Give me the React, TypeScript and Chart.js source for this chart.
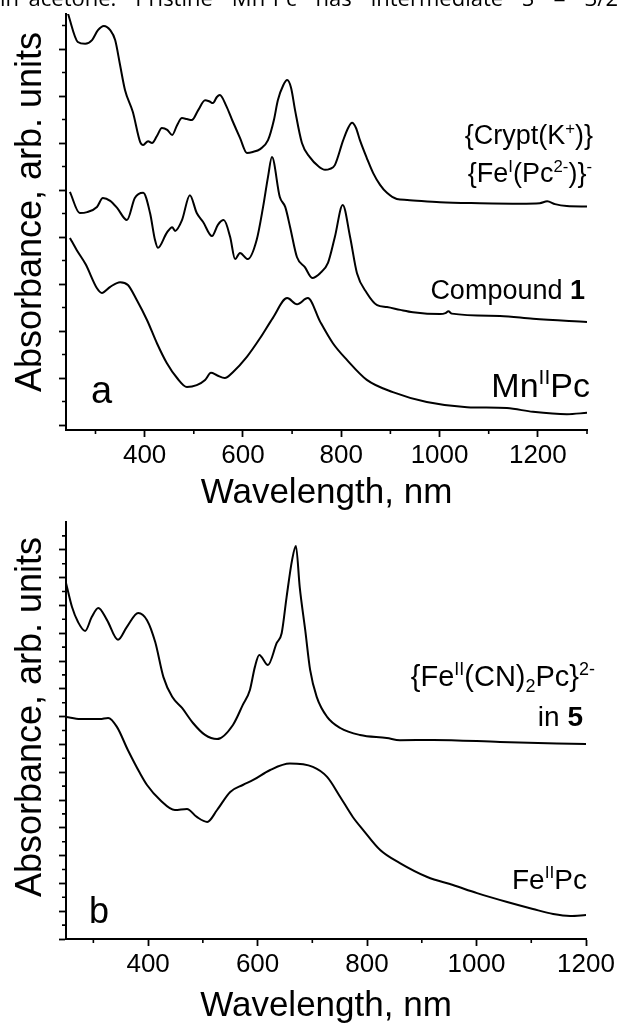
import React, { useEffect, useRef } from 'react';
import { Chart, registerables } from 'chart.js';

Chart.register(...registerables);

// ---------- Panel a data ----------
const cryptWl = [244,264,279,293,305,317,330,340,350,360,376,391,397,407,415,425,435,446,456,466,476,486,496,509,523,531,539,547,553,566,578,594,608,620,635,651,663,671,682,690,698,706,720,736,753,767,777,787,804,814,822,830,838,852,865,879,893,913,934,1001,1082,1164,1204,1219,1235,1259,1300];
const cryptAbs = [8.75,8.15,8.11,8.19,8.40,8.49,8.40,8.19,7.66,7.13,6.66,6.02,5.96,6.04,6.00,6.15,6.32,6.28,6.17,6.38,6.53,6.51,6.49,6.70,6.91,6.89,6.85,6.98,7.02,6.79,6.49,6.11,5.79,5.81,5.87,6.06,6.49,6.91,7.23,7.34,7.17,6.70,6.00,5.70,5.51,5.43,5.45,5.53,6.06,6.32,6.43,6.32,6.06,5.68,5.36,5.11,4.94,4.81,4.79,4.74,4.72,4.71,4.72,4.76,4.70,4.66,4.65];

const c1Wl = [248,268,283,303,315,330,344,364,380,397,411,421,427,445,456,462,476,492,506,519,537,549,561,574,584,594,610,628,641,651,659,675,686,696,710,726,741,757,773,787,803,818,832,852,873,893,920,946,1001,1012,1018,1025,1123,1190,1300];
const c1Abs = [4.96,4.51,4.53,4.64,4.83,4.77,4.62,4.36,4.83,4.94,4.51,3.94,3.77,4.09,4.21,4.13,4.36,4.89,4.51,4.32,4.02,4.26,4.36,4.00,3.53,3.66,3.53,3.94,4.64,5.28,5.70,4.85,4.64,4.21,3.57,3.36,3.13,3.23,3.45,4.00,4.68,4.00,3.23,2.81,2.55,2.51,2.45,2.40,2.36,2.38,2.42,2.37,2.32,2.26,2.19];

const mnWl = [248,262,280,303,313,330,350,366,384,405,425,445,466,486,506,523,535,547,563,580,608,635,661,690,710,732,757,783,812,852,905,974,1056,1137,1190,1259,1300];
const mnAbs = [3.98,3.72,3.42,2.91,2.81,2.94,3.04,2.98,2.66,2.23,1.74,1.32,1.00,0.81,0.85,0.96,1.11,1.06,1.00,1.13,1.45,1.85,2.28,2.70,2.57,2.70,2.20,1.74,1.38,0.96,0.70,0.49,0.38,0.36,0.28,0.23,0.26];

// ---------- Panel b data ----------
const cnWl = [250,261,272,285,297,309,325,345,361,382,398,413,428,444,462,482,504,526,555,573,586,595,603,619,635,644,653,663,670,677,687,696,708,727,751,787,836,860,921,1043,1200];
const cnAbs = [12.81,11.94,11.40,11.08,11.58,11.91,11.47,10.76,11.22,11.73,11.47,10.68,9.42,8.71,8.31,7.77,7.34,7.19,7.70,8.42,8.96,9.78,10.22,9.86,10.65,11.00,12.30,13.63,14.14,12.66,11.12,9.68,8.71,7.99,7.59,7.34,7.23,7.15,7.16,7.09,7.01];

const fpWl = [250,276,312,327,343,363,385,398,422,449,471,489,508,526,550,573,592,623,659,701,727,751,774,793,824,860,910,957,1001,1056,1103,1140,1171,1200];
const fpAbs = [7.99,7.91,7.91,7.95,7.63,6.80,5.97,5.54,5.00,4.64,4.68,4.39,4.21,4.64,5.29,5.54,5.72,6.08,6.31,6.19,5.83,5.11,4.39,3.92,3.20,2.73,2.23,1.94,1.65,1.33,1.08,0.90,0.83,0.86];

// ---------- Ticks ----------
const aMajorX = [400, 600, 800, 1000, 1200];
const aMinorX = [300, 500, 700, 900, 1100, 1300];
const aMajorY = [0, 1, 2, 3, 4, 5, 6, 7, 8];
const aMinorY = [0.5, 1.5, 2.5, 3.5, 4.5, 5.5, 6.5, 7.5, 8.5];
const bMajorX = [400, 600, 800, 1000, 1200];
const bMinorX = [300, 500, 700, 900, 1100];
const bMajorY = [0, 1, 2, 3, 4, 5, 6, 7, 8, 9, 10, 11, 12, 13, 14];
const bMinorY = [0.5, 1.5, 2.5, 3.5, 4.5, 5.5, 6.5, 7.5, 8.5, 9.5, 10.5, 11.5, 12.5, 13.5, 14.5];

const xTitle = 'Wavelength, nm';
const yTitle = 'Absorbance, arb. units';

const FONT = '"Liberation Sans", Arial, sans-serif';

const toXY = (xs: number[], ys: number[]) => xs.map((x, i) => ({ x, y: ys[i] }));

const minorTicksPlugin = {
  id: 'minorTicks',
  afterDraw(chart: any, _args: any, opts: any) {
    const { ctx } = chart;
    const xs = chart.scales.x;
    const ys = chart.scales.y;
    ctx.save();
    ctx.strokeStyle = '#000';
    ctx.lineWidth = 1.6;
    ctx.beginPath();
    (opts.x || []).forEach((v: number) => {
      const px = xs.getPixelForValue(v);
      ctx.moveTo(px, xs.top);
      ctx.lineTo(px, xs.top + 4);
    });
    (opts.y || []).forEach((v: number) => {
      const py = ys.getPixelForValue(v);
      ctx.moveTo(ys.right, py);
      ctx.lineTo(ys.right - 4, py);
    });
    ctx.stroke();
    ctx.restore();
  },
};

const lineStyle = {
  borderColor: '#000',
  borderWidth: 2,
  pointRadius: 0,
  fill: false,
  cubicInterpolationMode: 'monotone' as const,
};

function makeConfig(p: {
  series: { x: number; y: number }[][];
  xMin: number; xMax: number; yMin: number; yMax: number;
  majorX: number[]; minorX: number[]; majorY: number[]; minorY: number[];
  padding: any; xHeight: number; xTitlePad: number;
}) {
  const grid = {
    display: true,
    drawOnChartArea: false,
    drawTicks: true,
    tickLength: 7,
    tickWidth: 1.8,
    tickColor: '#000',
    color: '#000',
  };
  const border = { display: true, color: '#000', width: 2 };
  return {
    type: 'line' as const,
    data: { datasets: p.series.map((d) => ({ data: d, ...lineStyle })) },
    plugins: [minorTicksPlugin],
    options: {
      responsive: false,
      animation: false as const,
      devicePixelRatio: 1,
      layout: { padding: p.padding },
      plugins: {
        legend: { display: false },
        tooltip: { enabled: false },
        minorTicks: { x: p.minorX, y: p.minorY },
      },
      scales: {
        x: {
          type: 'linear' as const,
          min: p.xMin,
          max: p.xMax,
          afterBuildTicks: (s: any) => { s.ticks = p.majorX.map((v) => ({ value: v })); },
          afterFit: (s: any) => { s.height = p.xHeight; },
          grid,
          border,
          ticks: {
            font: { family: FONT, size: 26 },
            color: '#000',
            padding: 3,
            maxRotation: 0,
            autoSkip: false,
            callback: (v: any) => String(v),
          },
          title: {
            display: true,
            text: xTitle,
            font: { family: FONT, size: 35 },
            color: '#000',
            padding: { top: 0, bottom: p.xTitlePad },
          },
        },
        y: {
          type: 'linear' as const,
          min: p.yMin,
          max: p.yMax,
          afterBuildTicks: (s: any) => { s.ticks = p.majorY.map((v) => ({ value: v })); },
          afterFit: (s: any) => { s.width = 66; },
          grid,
          border,
          ticks: { display: false },
          title: { display: false },
        },
      },
    },
  };
}

const supStyle: React.CSSProperties = { fontSize: '0.62em', position: 'relative', top: '-0.62em', lineHeight: 0 };
const subStyle: React.CSSProperties = { fontSize: '0.62em', position: 'relative', top: '0.3em', lineHeight: 0 };

function Label(props: { right?: number; left?: number; baseline: number; size: number; children: React.ReactNode }) {
  const st: React.CSSProperties = {
    position: 'absolute',
    top: props.baseline - 0.85 * props.size,
    fontSize: props.size,
    lineHeight: 1,
    whiteSpace: 'nowrap',
  };
  if (props.right !== undefined) st.right = 618 - props.right;
  if (props.left !== undefined) st.left = props.left;
  return <div style={st}>{props.children}</div>;
}

function YTitle(props: { cx: number; cy: number }) {
  return (
    <div style={{
      position: 'absolute', left: props.cx, top: props.cy, fontSize: 36, lineHeight: 1,
      whiteSpace: 'nowrap', transform: 'translate(-50%, -50%) rotate(-90deg)',
    }}>{yTitle}</div>
  );
}

export default function App() {
  const refA = useRef<HTMLCanvasElement>(null);
  const refB = useRef<HTMLCanvasElement>(null);

  useEffect(() => {
    const a = new Chart(refA.current as HTMLCanvasElement, makeConfig({
      series: [toXY(cryptWl, cryptAbs), toXY(c1Wl, c1Abs), toXY(mnWl, mnAbs)],
      xMin: 240, xMax: 1300, yMin: -0.106, yMax: 8.745,
      majorX: aMajorX, minorX: aMinorX, majorY: aMajorY, minorY: aMinorY,
      padding: { left: 0, top: 14, right: 31, bottom: 0 },
      xHeight: 85, xTitlePad: 1,
    }) as any);
    const b = new Chart(refB.current as HTMLCanvasElement, makeConfig({
      series: [toXY(cnWl, cnAbs), toXY(fpWl, fpAbs)],
      xMin: 250, xMax: 1200, yMin: 0, yMax: 15,
      majorX: bMajorX, minorX: bMinorX, majorY: bMajorY, minorY: bMinorY,
      padding: { left: 0, top: 7, right: 32, bottom: 0 },
      xHeight: 92, xTitlePad: 4,
    }) as any);
    return () => { a.destroy(); b.destroy(); };
  }, []);

  return (
    <div style={{ position: 'absolute', left: 0, top: 0, width: 618, height: 1031, overflow: 'hidden', background: '#fff', color: '#000', fontFamily: FONT }}>
      <canvas ref={refA} width={618} height={515} style={{ position: 'absolute', left: 0, top: 0, width: 618, height: 515 }} />
      <canvas ref={refB} width={618} height={516} style={{ position: 'absolute', left: 0, top: 515, width: 618, height: 516 }} />

      <div style={{ position: 'absolute', left: 0, top: -14, width: 618, fontSize: 22, lineHeight: 1, textAlign: 'justify', textAlignLast: 'justify', whiteSpace: 'nowrap', fontFamily: '"Open Sans", "Liberation Sans", sans-serif' }}>
        in acetone.&nbsp; Pristine&nbsp; Mn<span style={supStyle}>II</span>Pc&nbsp; has&nbsp; intermediate&nbsp; S&nbsp; =&nbsp; 3/2
      </div>

      <YTitle cx={29} cy={212} />
      <YTitle cx={29} cy={717} />

      <Label right={593} baseline={145} size={27}>{'{Crypt(K'}<span style={supStyle}>+</span>{')}'}</Label>
      <Label right={592} baseline={183} size={27}>{'{Fe'}<span style={supStyle}>I</span>{'(Pc'}<span style={supStyle}>2-</span>{')}'}<span style={supStyle}>-</span></Label>
      <Label right={585} baseline={300} size={27}>Compound <b>1</b></Label>
      <Label right={590} baseline={397} size={34}>Mn<span style={supStyle}>II</span>Pc</Label>
      <Label left={91} baseline={403} size={38}>a</Label>

      <Label right={595} baseline={687} size={29}>{'{Fe'}<span style={supStyle}>II</span>{'(CN)'}<span style={subStyle}>2</span>{'Pc}'}<span style={supStyle}>2-</span></Label>
      <Label right={583} baseline={727} size={28}>in <b>5</b></Label>
      <Label right={587} baseline={890} size={28}>Fe<span style={supStyle}>II</span>Pc</Label>
      <Label left={89} baseline={924} size={36}>b</Label>
    </div>
  );
}
